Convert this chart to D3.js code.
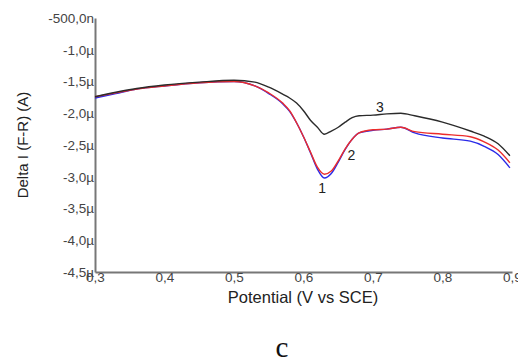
<!DOCTYPE html>
<html>
<head>
<meta charset="utf-8">
<script src="https://cdn.jsdelivr.net/npm/d3@7"></script>
<style>
  body { margin: 0; background: #fff; }
  svg { display: block; }
</style>
</head>
<body>
<div id="graph"></div>
<script>
// potential (V vs SCE)
const potential = [0.30, 0.33, 0.36, 0.40, 0.45, 0.50, 0.53, 0.55, 0.57, 0.58, 0.59, 0.60, 0.61, 0.62, 0.63,
  0.64, 0.65, 0.66, 0.67, 0.68, 0.70, 0.72, 0.74, 0.76, 0.80, 0.84, 0.86, 0.88, 0.897]
// delta I in microamps
const curve1 = [-1.76, -1.69, -1.62, -1.57, -1.52, -1.50, -1.57, -1.69, -1.85, -1.97, -2.15, -2.37, -2.62, -2.88, -3.02,
  -2.95, -2.77, -2.57, -2.41, -2.31, -2.27, -2.25, -2.22, -2.31, -2.39, -2.44, -2.52, -2.65, -2.86]
const curve2 = [-1.74, -1.68, -1.62, -1.57, -1.52, -1.50, -1.57, -1.68, -1.84, -1.96, -2.15, -2.37, -2.61, -2.85, -2.96,
  -2.91, -2.75, -2.56, -2.41, -2.31, -2.26, -2.25, -2.22, -2.29, -2.33, -2.37, -2.45, -2.58, -2.78]
const curve3 = [-1.74, -1.67, -1.61, -1.555, -1.51, -1.48, -1.51, -1.59, -1.70, -1.76, -1.84, -1.96, -2.11, -2.22, -2.33,
  -2.28, -2.22, -2.14, -2.07, -2.04, -2.03, -2.01, -2.00, -2.04, -2.14, -2.28, -2.36, -2.48, -2.67]

const yTicks = [-0.5, -1.0, -1.5, -2.0, -2.5, -3.0, -3.5, -4.0, -4.5]
const yTickLabels = ['-500,0n', '-1,0µ', '-1,5µ', '-2,0µ', '-2,5µ', '-3,0µ', '-3,5µ', '-4,0µ', '-4,5µ']
const xTicks = [0.3, 0.4, 0.5, 0.6, 0.7, 0.8, 0.9]
const xTickLabels = ['0,3', '0,4', '0,5', '0,6', '0,7', '0,8', '0,9']

// curve number labels: [potential, current]
const curveLabels = [
  { text: '1', x: 0.627, y: -3.25 },
  { text: '2', x: 0.669, y: -2.73 },
  { text: '3', x: 0.71, y: -1.98 }
]

const dims = { width: 518, height: 360, left: 95, right: 6, top: 18, bottom: 88 }

const svg = d3.select('#graph').append('svg')
  .attr('width', dims.width)
  .attr('height', dims.height)

const xScale = d3.scaleLinear().domain([0.3, 0.9]).range([dims.left, dims.width - dims.right])
const yScale = d3.scaleLinear().domain([-4.5, -0.5]).range([dims.height - dims.bottom, dims.top])

const font = "'Liberation Sans', Arial, sans-serif"

// y axis
const yAxis = d3.axisLeft(yScale)
  .tickValues(yTicks)
  .tickSize(0)
  .tickPadding(1)
  .tickFormat((d, i) => yTickLabels[i])
const yAxisGroup = svg.append('g')
  .attr('transform', `translate(${dims.left},0)`)
  .call(yAxis)
yAxisGroup.select('.domain').attr('stroke', '#777').attr('stroke-width', 2)
yAxisGroup.selectAll('text')
  .attr('font-family', font).attr('font-size', '13.5px').attr('fill', '#444')

// x axis
const xAxis = d3.axisBottom(xScale)
  .tickValues(xTicks)
  .tickSize(0)
  .tickPadding(0)
  .tickFormat((d, i) => xTickLabels[i])
const xAxisGroup = svg.append('g')
  .attr('transform', `translate(0,${yScale(-4.5)})`)
  .call(xAxis)
xAxisGroup.select('.domain').attr('stroke', '#777').attr('stroke-width', 2)
xAxisGroup.selectAll('text')
  .attr('font-family', font).attr('font-size', '13.5px').attr('fill', '#444')

// axis titles
svg.append('text')
  .attr('x', 303).attr('y', 303)
  .attr('text-anchor', 'middle')
  .attr('font-family', font).attr('font-size', '16.5px').attr('fill', '#222')
  .text('Potential (V vs SCE)')

svg.append('text')
  .attr('transform', 'translate(28,145) rotate(-90)')
  .attr('text-anchor', 'middle')
  .attr('font-family', font).attr('font-size', '15px').attr('fill', '#222')
  .text('Delta I (F-R) (A)')

// curves
const lineGen = d3.line()
  .x((d) => xScale(d[0]))
  .y((d) => yScale(d[1]))
  .curve(d3.curveMonotoneX)

const series = [
  { values: curve1, color: '#2a2ae8' },
  { values: curve2, color: '#ec2c2c' },
  { values: curve3, color: '#2b2b2b' }
]
series.forEach((s) => {
  svg.append('path')
    .datum(potential.map((p, i) => [p, s.values[i]]))
    .attr('d', lineGen)
    .attr('fill', 'none')
    .attr('stroke', s.color)
    .attr('stroke-width', 1.4)
})

svg.selectAll('.curve-label')
  .data(curveLabels)
  .join('text')
  .attr('class', 'curve-label')
  .attr('x', (d) => xScale(d.x))
  .attr('y', (d) => yScale(d.y))
  .attr('text-anchor', 'middle')
  .attr('font-family', font).attr('font-size', '14px').attr('fill', '#222')
  .text((d) => d.text)

// caption
svg.append('text')
  .attr('x', 282).attr('y', 357)
  .attr('text-anchor', 'middle')
  .attr('font-family', "'Liberation Serif', 'Times New Roman', serif")
  .attr('font-size', '29px').attr('fill', '#111')
  .text('c')
</script>
</body>
</html>
